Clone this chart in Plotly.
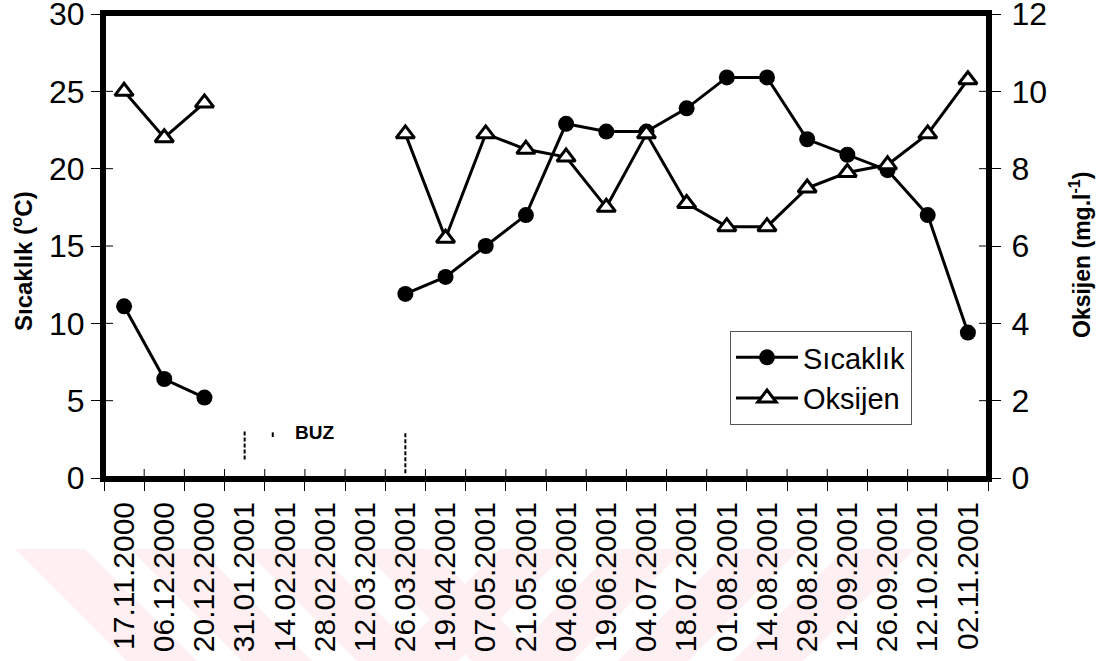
import plotly.graph_objects as go

# Sampling dates
dates = [
    "17.11.2000", "06.12.2000", "20.12.2000", "31.01.2001", "14.02.2001",
    "28.02.2001", "12.03.2001", "26.03.2001", "19.04.2001", "07.05.2001",
    "21.05.2001", "04.06.2001", "19.06.2001", "04.07.2001", "18.07.2001",
    "01.08.2001", "14.08.2001", "29.08.2001", "12.09.2001", "26.09.2001",
    "12.10.2001", "02.11.2001",
]

# Water temperature (°C); None while the lake was frozen
sicaklik = [
    11.1, 6.4, 5.2, None, None, None, None, 11.9, 13.0, 15.0,
    17.0, 22.9, 22.4, 22.4, 23.9, 25.9, 25.9, 21.9, 20.9, 19.9,
    17.0, 9.4,
]

# Dissolved oxygen (mg/l)
oksijen = [
    10.0, 8.8, 9.7, None, None, None, None, 8.9, 6.2, 8.9,
    8.5, 8.3, 7.0, 8.9, 7.1, 6.5, 6.5, 7.5, 7.9, 8.1,
    8.9, 10.3,
]

temp_ticks = [0, 5, 10, 15, 20, 25, 30]
oxy_ticks = [0, 2, 4, 6, 8, 10, 12]

# Ice-cover period markers
buz_baslangic = "31.01.2001"
buz_bitis = "26.03.2001"

W, H = 1103, 661
ML, MR, MT, MB = 104, 115, 14, 183
PW, PH = W - ML - MR, H - MT - MB
TICK = 9  # tick length in px

FONT = "Liberation Sans, Arial, sans-serif"


def px_to_paper(x, y):
    return (x - ML) / PW, (H - MB - y) / PH


fig = go.Figure()

fig.add_trace(go.Scatter(
    x=dates, y=sicaklik, name="Sıcaklık", mode="lines+markers",
    line=dict(color="black", width=3),
    marker=dict(symbol="circle", size=16, color="black"),
    connectgaps=False,
))
fig.add_trace(go.Scatter(
    x=dates, y=oksijen, name="Oksijen", mode="lines+markers", yaxis="y2",
    line=dict(color="black", width=3),
    marker=dict(symbol="triangle-up", size=16, color="white",
                line=dict(color="black", width=3)),
    connectgaps=False,
))

shapes = []

# Faint diagonal band pattern along the bottom of the page
pink = "#fdeff2"
top_y, bot_y = 549, 661
drop = bot_y - top_y
for x0 in [15, 130, 245, 360]:
    pts = [(x0, top_y), (x0 + 70, top_y), (x0 + 70 + drop, bot_y), (x0 + drop, bot_y)]
    pp = [px_to_paper(*p) for p in pts]
    path = "M " + " L ".join(f"{a:.4f},{b:.4f}" for a, b in pp) + " Z"
    shapes.append(dict(type="path", path=path, xref="paper", yref="paper",
                       fillcolor=pink, line=dict(width=0), layer="below"))
for x0 in [500, 615, 730, 845]:
    pts = [(x0, top_y), (x0 + 70, top_y), (x0 + 70 - drop, bot_y), (x0 - drop, bot_y)]
    pp = [px_to_paper(*p) for p in pts]
    path = "M " + " L ".join(f"{a:.4f},{b:.4f}" for a, b in pp) + " Z"
    shapes.append(dict(type="path", path=path, xref="paper", yref="paper",
                       fillcolor=pink, line=dict(width=0), layer="below"))

# Inner halves of the tick marks, so ticks cross the axis lines
tick_line = dict(color="black", width=1)
for t in temp_ticks:
    shapes.append(dict(type="line", xref="paper", yref="y", x0=0, x1=TICK / PW,
                       y0=t, y1=t, line=tick_line))
for t in oxy_ticks:
    shapes.append(dict(type="line", xref="paper", yref="y2", x0=1 - TICK / PW, x1=1,
                       y0=t, y1=t, line=tick_line))
n = len(dates)
for b in range(n + 1):
    shapes.append(dict(type="line", xref="x", yref="paper", x0=b - 0.5, x1=b - 0.5,
                       y0=0, y1=TICK / PH, line=tick_line))

# Ice period: dashed verticals at start and end of the frozen interval
i0 = dates.index(buz_baslangic)
i1 = dates.index(buz_bitis)
dash_line = dict(color="black", width=2, dash="4px,2px")
shapes.append(dict(type="line", xref="x", yref="y", x0=i0, x1=i0, y0=1.2, y1=3.1,
                   line=dash_line))
shapes.append(dict(type="line", xref="x", yref="y", x0=i0 + 0.7, x1=i0 + 0.7,
                   y0=2.65, y1=2.95, line=dict(color="black", width=2)))
shapes.append(dict(type="line", xref="x", yref="y", x0=i1, x1=i1, y0=0.3, y1=3.0,
                   line=dash_line))

# Plot frame
shapes.append(dict(type="rect", xref="paper", yref="paper", x0=0, x1=1, y0=0, y1=1,
                   line=dict(color="black", width=4), layer="above"))

annotations = [
    dict(x=i0 + 1.75, y=2.95, xref="x", yref="y", text="<b>BUZ</b>",
         showarrow=False, font=dict(family=FONT, size=19, color="black")),
    # axis titles
    dict(x=22, y=261, xref="paper", yref="paper", text="<b>Sıcaklık (<sup>o</sup>C)</b>",
         textangle=-90, showarrow=False, xanchor="center", yanchor="middle",
         font=dict(family=FONT, size=24, color="black")),
    dict(x=1080, y=255, xref="paper", yref="paper", text="<b>Oksijen (mg.l<sup>-1</sup>)</b>",
         textangle=-90, showarrow=False, xanchor="center", yanchor="middle",
         font=dict(family=FONT, size=23, color="black")),
]
# convert title pixel positions to paper coordinates
for a in annotations[1:]:
    a["x"], a["y"] = px_to_paper(a["x"], a["y"])

common = dict(automargin=False, showgrid=False, zeroline=False,
              tickwidth=1, tickcolor="black", ticklen=TICK, ticks="outside")

fig.update_layout(
    width=W, height=H,
    margin=dict(l=ML, r=MR, t=MT, b=MB, pad=0, autoexpand=False),
    paper_bgcolor="white", plot_bgcolor="white",
    font=dict(family=FONT, color="black"),
    showlegend=True,
    legend=dict(
        x=(730 - ML) / PW, y=(H - MB - 331) / PH, xanchor="left", yanchor="top",
        bordercolor="#555", borderwidth=1, bgcolor="white",
        font=dict(family=FONT, size=29, color="black"),
        itemwidth=62, tracegroupgap=0,
    ),
    xaxis=dict(
        type="category", categoryorder="array", categoryarray=dates,
        range=[-0.5, n - 0.5],
        tickson="boundaries", tickangle=-90, ticklabelstandoff=8,
        tickfont=dict(family=FONT, size=30, color="black"),
        showline=True, linecolor="black", linewidth=4, mirror=True,
        **common,
    ),
    yaxis=dict(
        range=[0, 30], tickmode="array", tickvals=temp_ticks,
        tickfont=dict(family=FONT, size=32, color="black"),
        ticklabeloverflow="allow",
        showline=True, linecolor="black", linewidth=4,
        **common,
    ),
    yaxis2=dict(
        range=[0, 12], tickmode="array", tickvals=oxy_ticks,
        overlaying="y", side="right", anchor="x",
        tickfont=dict(family=FONT, size=32, color="black"),
        ticklabeloverflow="allow", ticklabelstandoff=4,
        showline=True, linecolor="black", linewidth=4,
        **common,
    ),
    shapes=shapes,
    annotations=annotations,
)

fig.write_html("out.html")
